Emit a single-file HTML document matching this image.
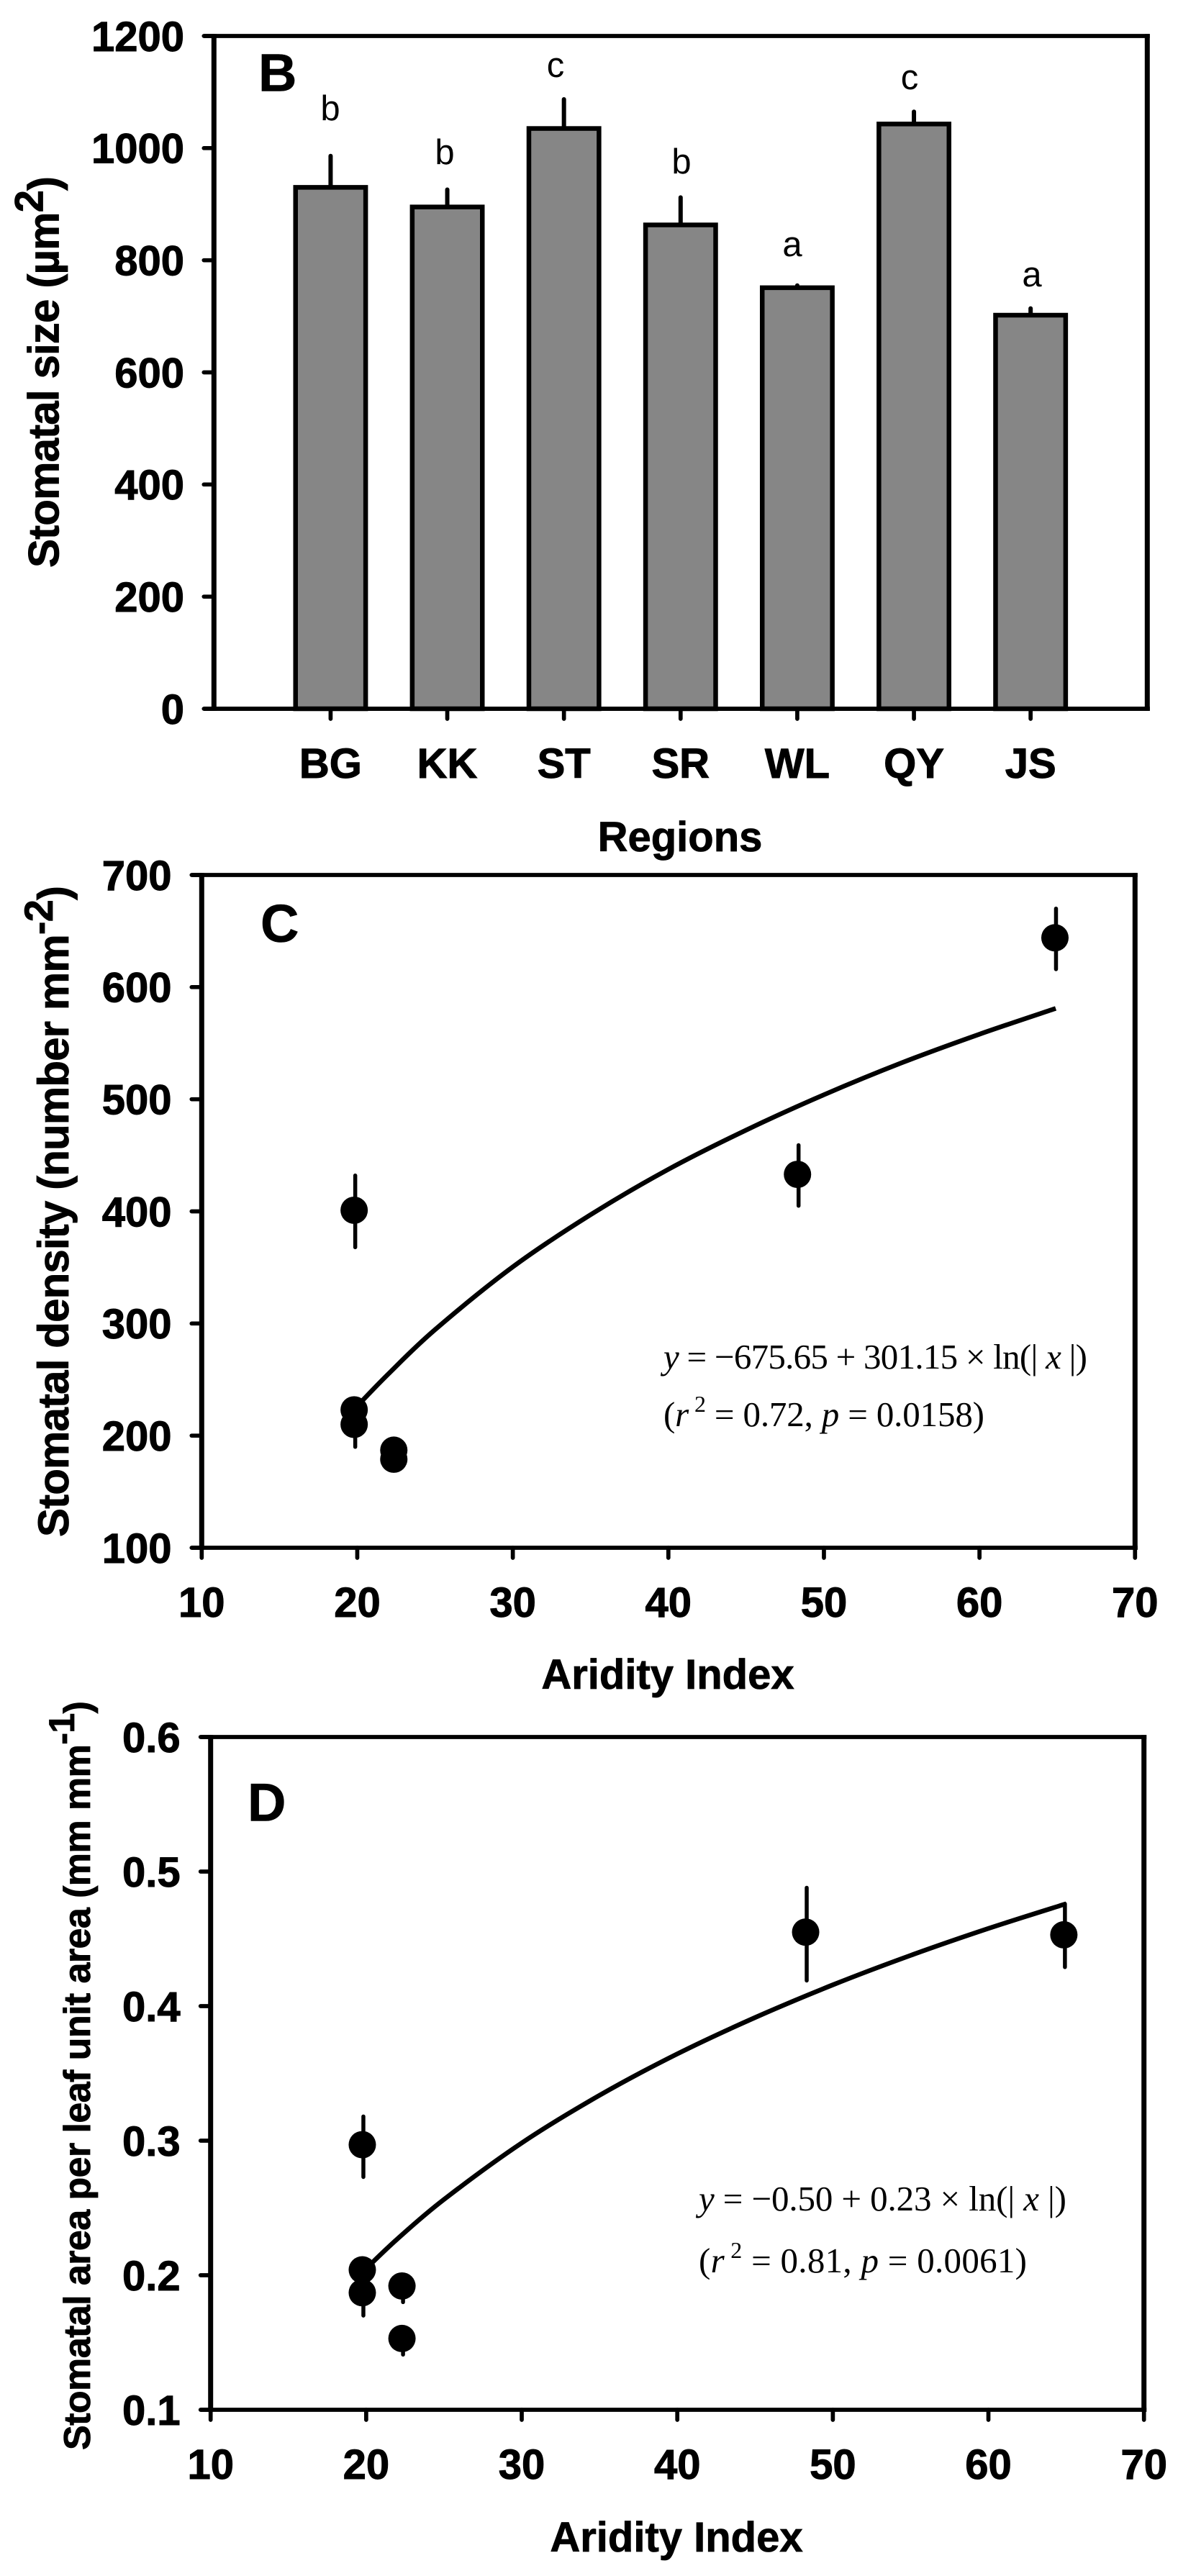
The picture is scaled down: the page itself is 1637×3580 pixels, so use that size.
<!DOCTYPE html>
<html lang="en">
<head>
<meta charset="utf-8">
<title>Stomatal traits by region and aridity index</title>
<style>
html,body{margin:0;padding:0;background:#fff;}
svg{display:block;}
text{font-family:"Liberation Sans",sans-serif;fill:#000;}
.tick-label{font-weight:700;font-size:58px;stroke:#000;stroke-width:1;}
.axis-title{font-weight:700;font-size:58px;stroke:#000;stroke-width:0.8;}
.panel-letter{font-weight:700;font-size:74px;stroke:#000;stroke-width:0.6;}
.stat-letter{font-size:49px;}
.equation{font-family:"Liberation Serif",serif;font-size:49px;}
.equation tspan.i{font-style:italic;}
</style>
</head>
<body>
<svg id="figure" xmlns="http://www.w3.org/2000/svg" width="1637" height="3580" viewBox="0 0 1637 3580">
  <rect x="0" y="0" width="1637" height="3580" fill="#ffffff"/>

  <g id="panel-b"></g>
  <g id="panel-c"></g>
  <g id="panel-d"></g>

  <!-- Panel B text -->
  <text class="panel-letter" x="359" y="126.5">B</text>
  <text class="stat-letter" x="459" y="167" text-anchor="middle">b</text>
  <text class="stat-letter" x="618" y="228" text-anchor="middle">b</text>
  <text class="stat-letter" x="772" y="107" text-anchor="middle">c</text>
  <text class="stat-letter" x="947" y="241" text-anchor="middle">b</text>
  <text class="stat-letter" x="1101" y="356" text-anchor="middle">a</text>
  <text class="stat-letter" x="1264" y="124" text-anchor="middle">c</text>
  <text class="stat-letter" x="1434" y="398" text-anchor="middle">a</text>
  <text class="axis-title" x="945" y="1183" text-anchor="middle">Regions</text>
  <text class="axis-title" transform="translate(81.5,789) rotate(-90)" style="font-size:60px" textLength="544">Stomatal size (µm<tspan dy="-22" style="font-size:56px">2</tspan><tspan dy="22">)</tspan></text>

  <!-- Panel C text -->
  <text class="panel-letter" x="362" y="1309">C</text>
  <text class="axis-title" x="928" y="2347" text-anchor="middle">Aridity Index</text>
  <text class="axis-title" transform="translate(95,2136) rotate(-90)" style="font-size:60px" textLength="905">Stomatal density (number mm<tspan dy="-22" style="font-size:56px">-2</tspan><tspan dy="22">)</tspan></text>
  <text class="equation" x="922" y="1902" textLength="589"><tspan class="i">y</tspan> = −675.65 + 301.15 × ln(| <tspan class="i">x</tspan> |)</text>
  <text class="equation" x="922" y="1982" textLength="446">(<tspan class="i">r</tspan><tspan dy="-20" style="font-size:32px"> 2</tspan><tspan dy="20"> = 0.72, </tspan><tspan class="i">p</tspan> = 0.0158)</text>

  <!-- Panel D text -->
  <text class="panel-letter" x="344" y="2530.5">D</text>
  <text class="axis-title" x="940" y="3546" text-anchor="middle">Aridity Index</text>
  <text class="axis-title" transform="translate(125,3405) rotate(-90)" style="font-size:52px" textLength="1041">Stomatal area per leaf unit area (mm mm<tspan dy="-22" style="font-size:50px">-1</tspan><tspan dy="22">)</tspan></text>
  <text class="equation" x="971" y="3072" textLength="511"><tspan class="i">y</tspan> = −0.50 + 0.23 × ln(| <tspan class="i">x</tspan> |)</text>
  <text class="equation" x="971" y="3158" textLength="456">(<tspan class="i">r</tspan><tspan dy="-20" style="font-size:32px"> 2</tspan><tspan dy="20"> = 0.81, </tspan><tspan class="i">p</tspan> = 0.0061)</text>
</svg>

<script>
// ---------- Panel B data ----------
const bCategories = ['BG', 'KK', 'ST', 'SR', 'WL', 'QY', 'JS'];
const bMeans = [930, 895, 1035, 863, 751, 1043, 702];
const bErrorTops = [986, 926, 1087, 912, 755, 1065, 714];
const bYTicks = [0, 200, 400, 600, 800, 1000, 1200];

// ---------- Panel C data ----------
const cXTicks = [10, 20, 30, 40, 50, 60, 70];
const cYTicks = [100, 200, 300, 400, 500, 600, 700];
const cPointX = [19.8, 19.8, 19.8, 22.35, 22.35, 48.3, 64.85];
const cPointY = [401, 223, 210, 187, 179, 433, 644];
const cErrHigh = [432, 232, 228, 195, 187, 459, 670];
const cErrLow = [368, 213, 190, 179, 171, 405, 616];
const cCurveX = [19.9, 22, 25, 30, 35, 40, 45, 50, 55, 60, 64.9];
const cCurveY = [225, 255, 294.5, 350.5, 397, 437.5, 472.5, 504, 532.5, 558, 581];

// ---------- Panel D data ----------
const dXTicks = [10, 20, 30, 40, 50, 60, 70];
const dYTicks = [0.1, 0.2, 0.3, 0.4, 0.5, 0.6];
const dYTickLabels = ['0.1', '0.2', '0.3', '0.4', '0.5', '0.6'];
const dPointX = [19.75, 19.75, 19.75, 22.3, 22.3, 48.25, 64.85];
const dPointY = [0.297, 0.204, 0.187, 0.192, 0.153, 0.455, 0.453];
const dErrHigh = [0.318, 0.21, 0.195, 0.198, 0.158, 0.488, 0.476];
const dErrLow = [0.273, 0.195, 0.17, 0.18, 0.141, 0.419, 0.429];
const dCurveX = [20, 22, 25, 30, 35, 40, 45, 50, 55, 60, 65];
const dCurveY = [0.205, 0.2269, 0.2563, 0.2983, 0.3337, 0.3645, 0.3915, 0.4158, 0.4377, 0.4577, 0.4761];

const SVG_NS = 'http://www.w3.org/2000/svg';

function make(tag, attrs, parent) {
  const node = document.createElementNS(SVG_NS, tag);
  for (const key in attrs) node.setAttribute(key, attrs[key]);
  parent.appendChild(node);
  return node;
}

function linear(d0, d1, r0, r1) {
  return function (v) { return r0 + (v - d0) * (r1 - r0) / (d1 - d0); };
}

function smoothPath(points) {
  let d = 'M' + points[0][0].toFixed(2) + ' ' + points[0][1].toFixed(2);
  for (let i = 0; i < points.length - 1; i++) {
    const p0 = points[Math.max(0, i - 1)];
    const p1 = points[i];
    const p2 = points[i + 1];
    const p3 = points[Math.min(points.length - 1, i + 2)];
    const c1x = p1[0] + (p2[0] - p0[0]) / 6;
    const c1y = p1[1] + (p2[1] - p0[1]) / 6;
    const c2x = p2[0] - (p3[0] - p1[0]) / 6;
    const c2y = p2[1] - (p3[1] - p1[1]) / 6;
    d += 'C' + [c1x, c1y, c2x, c2y, p2[0], p2[1]].map(function (n) { return n.toFixed(2); }).join(' ');
  }
  return d;
}

// Frame: top and bottom rules run out over the y ticks
function drawFrame(g, left, right, top, bottom, prefix) {
  const names = ['top', 'bottom', 'left', 'right'];
  const segs = [
    [left - 14, top, right + 3.5, top, 5.7],
    [left - 14, bottom, right + 3.5, bottom, 5.7],
    [left, top - 2.8, left, bottom + 2.8, 7],
    [right, top - 2.8, right, bottom + 2.8, 7]
  ];
  segs.forEach(function (s, i) {
    const el = make('line', { x1: s[0], y1: s[1], x2: s[2], y2: s[3], stroke: '#000', 'stroke-width': s[4] }, g);
    
    
  });
}

function drawYTick(g, left, y, labelRight, label, prefix) {
  const tick = make('line', { x1: left - 14, y1: y, x2: left, y2: y, stroke: '#000', 'stroke-width': 5.7, 'stroke-linecap': 'round' }, g);
  
  
  const text = make('text', { x: labelRight, y: y + 20.8, 'text-anchor': 'end', class: 'tick-label' }, g);
  text.textContent = label;
  
  
}

function drawXTick(g, x, bottom, baseline, label, prefix) {
  const tick = make('line', { x1: x, y1: bottom, x2: x, y2: bottom + 14, stroke: '#000', 'stroke-width': 5.7, 'stroke-linecap': 'round' }, g);
  
  
  const text = make('text', { x: x, y: baseline, 'text-anchor': 'middle', class: 'tick-label' }, g);
  text.textContent = label;
  
  
}

// ---------- Panel B ----------
(function () {
  const g = document.getElementById('panel-b');
  const left = 297.3, right = 1594.3, top = 50, bottom = 985;
  const y = linear(0, 1200, bottom, top);
  const band = (right - left) / (bCategories.length + 1);
  const x = function (i) { return left + band * (i + 1); };
  const barW = 97.4;

  drawFrame(g, left, right, top, bottom, 'panel-b');
  bYTicks.forEach(function (v) { drawYTick(g, left, y(v), 256, String(v), 'panel-b'); });

  bCategories.forEach(function (cat, i) {
    const err = make('line', { x1: x(i), y1: y(bMeans[i]), x2: x(i), y2: y(bErrorTops[i]), stroke: '#000', 'stroke-width': 6, 'stroke-linecap': 'round' }, g);
    
    
    const bar = make('rect', { x: x(i) - barW / 2, y: y(bMeans[i]), width: barW, height: y(0) - y(bMeans[i]), fill: '#868686', stroke: '#000', 'stroke-width': 6.5 }, g);
    
    
    drawXTick(g, x(i), bottom, 1081, cat, 'panel-b');
  });

  // redraw baseline over the bar feet
  const base = make('line', { x1: left - 14, y1: bottom, x2: right + 3.5, y2: bottom, stroke: '#000', 'stroke-width': 5.7 }, g);
  
  
})();

// ---------- Scatter panels ----------
function drawScatter(cfg) {
  const g = document.getElementById(cfg.id);
  const x = linear(10, 70, cfg.left, cfg.right);
  const y = linear(cfg.yMin, cfg.yMax, cfg.bottom, cfg.top);

  drawFrame(g, cfg.left, cfg.right, cfg.top, cfg.bottom, cfg.id);
  cfg.yTicks.forEach(function (v, i) {
    drawYTick(g, cfg.left, y(v), cfg.labelRight, cfg.yLabels[i], cfg.id);
  });
  cfg.xTicks.forEach(function (v) {
    drawXTick(g, x(v), cfg.bottom, cfg.xBaseline, String(v), cfg.id);
  });

  cfg.px.forEach(function (v, i) {
    const err = make('line', { x1: x(v) + 1.5, y1: y(cfg.errHigh[i]), x2: x(v) + 1.5, y2: y(cfg.errLow[i]), stroke: '#000', 'stroke-width': 5.5, 'stroke-linecap': 'round' }, g);
    
    
  });

  const pts = cfg.curveX.map(function (v, i) { return [x(v), y(cfg.curveY[i])]; });
  const curve = make('path', { d: smoothPath(pts), fill: 'none', stroke: '#000', 'stroke-width': 6.5 }, g);
  
  

  cfg.px.forEach(function (v, i) {
    const dot = make('circle', { cx: x(v), cy: y(cfg.py[i]), r: 19, fill: '#000' }, g);
    
    
  });
}

drawScatter({
  id: 'panel-c', left: 280.3, right: 1577.3, top: 1216, bottom: 2151,
  yMin: 100, yMax: 700, labelRight: 238.5, xBaseline: 2247,
  xTicks: cXTicks, yTicks: cYTicks, yLabels: cYTicks.map(String),
  px: cPointX, py: cPointY, errHigh: cErrHigh, errLow: cErrLow,
  curveX: cCurveX, curveY: cCurveY
});

drawScatter({
  id: 'panel-d', left: 292.7, right: 1589.7, top: 2414, bottom: 3349,
  yMin: 0.1, yMax: 0.6, labelRight: 250.7, xBaseline: 3445,
  xTicks: dXTicks, yTicks: dYTicks, yLabels: dYTickLabels,
  px: dPointX, py: dPointY, errHigh: dErrHigh, errLow: dErrLow,
  curveX: dCurveX, curveY: dCurveY
});
</script>
</body>
</html>
